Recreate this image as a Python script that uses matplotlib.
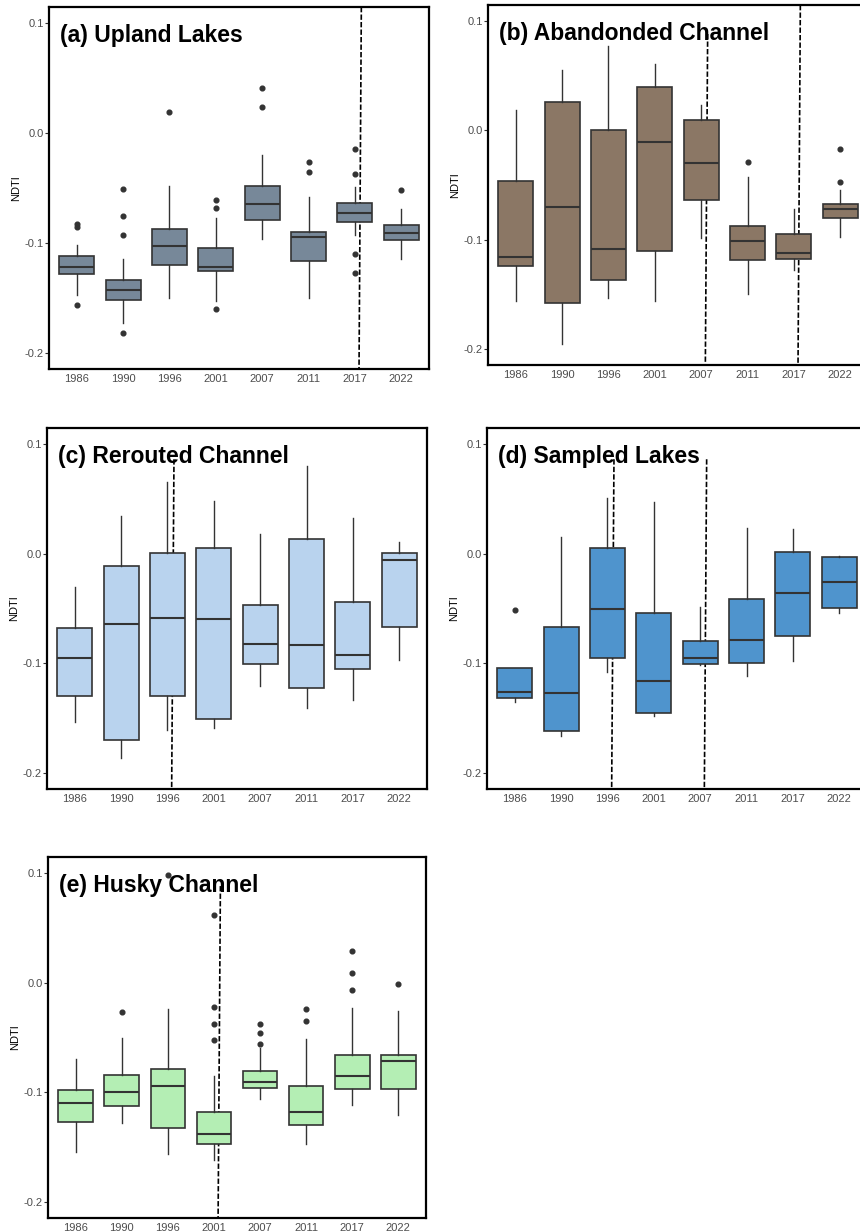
import matplotlib
matplotlib.use('Agg')
import matplotlib.pyplot as plt
import numpy as np

plt.rcParams['font.family'] = ['Liberation Sans', 'DejaVu Sans']
plt.rcParams['axes.unicode_minus'] = False

years = ['1986', '1990', '1996', '2001', '2007', '2011', '2017', '2022']

# (whisker low, q1, median, q3, whisker high) per year
upland_box = [
    (-0.147, -0.1285, -0.1215, -0.1114, -0.1017),
    (-0.1725, -0.1518, -0.1427, -0.1333, -0.1148),
    (-0.1497, -0.120, -0.1023, -0.0875, -0.0486),
    (-0.1527, -0.1251, -0.1215, -0.1042, -0.0774),
    (-0.0966, -0.0793, -0.0647, -0.0486, -0.0197),
    (-0.1503, -0.1166, -0.0941, -0.0896, -0.0586),
    (-0.0926, -0.0811, -0.0729, -0.0638, -0.0492),
    (-0.1145, -0.0972, -0.0905, -0.0835, -0.0689),
]
upland_out = [
    [-0.0826, -0.0856, -0.1564],
    [-0.0507, -0.075, -0.0926, -0.1819],
    [0.0188],
    [-0.0607, -0.0686, -0.1597],
    [0.041, 0.0234],
    [-0.0264, -0.0355],
    [-0.0149, -0.0377, -0.1102, -0.1275],
    [-0.0519],
]

abandoned_box = [
    (-0.1564, -0.124, -0.1155, -0.0466, 0.0183),
    (-0.195, -0.1579, -0.0704, 0.0259, 0.0555),
    (-0.1534, -0.1366, -0.1085, 0.0003, 0.0768),
    (-0.1558, -0.1104, -0.0104, 0.0393, 0.061),
    (-0.0988, -0.0637, -0.0302, 0.0098, 0.0235),
    (-0.1494, -0.1189, -0.1012, -0.0875, -0.043),
    (-0.128, -0.1174, -0.1119, -0.0951, -0.0716),
    (-0.0973, -0.0799, -0.072, -0.0671, -0.0543),
]
abandoned_out = [[], [], [], [], [], [-0.0293], [], [-0.0174, -0.047]]

rerouted_box = [
    (-0.1531, -0.1297, -0.0947, -0.0679, -0.0307),
    (-0.1866, -0.1696, -0.0642, -0.0116, 0.0344),
    (-0.161, -0.1297, -0.0591, 0.0003, 0.0654),
    (-0.1589, -0.1504, -0.0594, 0.0055, 0.0478),
    (-0.1202, -0.1005, -0.0828, -0.0472, 0.0177),
    (-0.1406, -0.1224, -0.0837, 0.0131, 0.0801),
    (-0.1333, -0.105, -0.0922, -0.0441, 0.0329),
    (-0.0965, -0.0667, -0.0058, 0.0009, 0.0107),
]
rerouted_out = [[], [], [], [], [], [], [], []]

sampled_box = [
    (-0.1352, -0.1312, -0.126, -0.1041, -0.1041),
    (-0.1665, -0.1613, -0.1269, -0.0667, 0.0152),
    (-0.1078, -0.0947, -0.0502, 0.0049, 0.0511),
    (-0.1482, -0.1452, -0.1163, -0.0542, 0.0472),
    (-0.1017, -0.1002, -0.0947, -0.0795, -0.0487),
    (-0.1117, -0.0998, -0.0791, -0.0411, 0.0237),
    (-0.0983, -0.0749, -0.0356, 0.0018, 0.0222),
    (-0.0539, -0.0493, -0.0256, -0.003, -0.002),
]
sampled_out = [[-0.0514], [], [], [], [], [], [], []]

husky_box = [
    (-0.154, -0.1272, -0.1099, -0.0974, -0.0697),
    (-0.1279, -0.1126, -0.0995, -0.084, -0.0508),
    (-0.1559, -0.1324, -0.0941, -0.0791, -0.0244),
    (-0.1613, -0.147, -0.1382, -0.1178, -0.0852),
    (-0.1056, -0.0962, -0.0904, -0.0804, -0.0594),
    (-0.1473, -0.1294, -0.1178, -0.0941, -0.0514),
    (-0.1117, -0.0965, -0.0855, -0.0658, -0.0234),
    (-0.1209, -0.0968, -0.0718, -0.0658, -0.0256),
]
husky_out = [
    [],
    [-0.0271],
    [0.0977],
    [0.0612, -0.0225, -0.0374, -0.0527],
    [-0.0374, -0.0463, -0.056],
    [-0.024, -0.035],
    [0.0289, 0.0091, -0.0067],
    [-0.0015],
]

# dashed break lines: (year, top value or None for full height)
upland_breaks = [('2017', None)]
abandoned_breaks = [('2007', 0.088), ('2017', None)]
rerouted_breaks = [('1996', 0.086)]
sampled_breaks = [('1996', 0.086), ('2007', 0.086)]
husky_breaks = [('2001', 0.088)]

titles = ['(a) Upland Lakes', '(b) Abandonded Channel', '(c) Rerouted Channel',
          '(d) Sampled Lakes', '(e) Husky Channel']
colors = ['#778899', '#8B7765', '#B9D3EE', '#4F94CD', '#B4EEB4']

W, H = 860, 1232
# axes boxes in pixels: left, top, width, height
panel_px = [(49, 7, 380, 362), (488, 5, 380, 360), (47, 428, 380, 361),
            (487, 428, 380, 361), (48, 857, 378, 361)]

YLIM = (-0.2145, 0.1145)
EDGE = '#333333'


def draw_panel(fig, px, title, color, boxes, outs, breaks):
    l, t, w, h = px
    ax = fig.add_axes([l / W, 1 - (t + h) / H, w / W, h / H])
    stats = []
    for yr, b, o in zip(years, boxes, outs):
        stats.append(dict(whislo=b[0], q1=b[1], med=b[2], q3=b[3], whishi=b[4],
                          fliers=o, label=yr))
    pos = np.arange(len(years))
    ax.bxp(stats, positions=pos, widths=0.75, patch_artist=True, showcaps=False,
           boxprops=dict(facecolor=color, edgecolor=EDGE, linewidth=1.2),
           medianprops=dict(color=EDGE, linewidth=1.5),
           whiskerprops=dict(color=EDGE, linewidth=1.0),
           flierprops=dict(marker='o', markerfacecolor=EDGE, markeredgecolor=EDGE,
                           markersize=3.4, linestyle='none'),
           zorder=3)
    for yr, ytop in breaks:
        i = years.index(yr)
        top = YLIM[1] if ytop is None else ytop
        ax.plot([i + 0.14, i + 0.09], [top, YLIM[0]], color='black', lw=1.2,
                linestyle=(0, (3.2, 1.3)), zorder=1, clip_on=False)
    ax.set_xlim(-0.6, len(years) - 0.4)
    ax.set_ylim(*YLIM)
    ax.set_yticks([-0.2, -0.1, 0.0, 0.1])
    ax.set_yticklabels(['-0.2', '-0.1', '0.0', '0.1'])
    ax.set_xticks(pos)
    ax.set_xticklabels(years)
    ax.tick_params(axis='y', length=2.8, width=0.8, color='#333333', pad=0.8,
                   labelsize=8, labelcolor='#4D4D4D')
    ax.tick_params(axis='x', length=0, pad=3.5, labelsize=8, labelcolor='#4D4D4D')
    for s in ax.spines.values():
        s.set_linewidth(1.6)
        s.set_color('black')
    ax.set_ylabel('NDTI', fontsize=8, color='black')
    ax.yaxis.set_label_coords(-0.074, 0.5)
    ax.text(11 / w, 1 - 35 / h, title, transform=ax.transAxes, fontsize=16.5,
            fontweight='bold', ha='left', va='baseline', zorder=6)
    return ax


fig = plt.figure(figsize=(8.6, 12.32), dpi=100)
all_boxes = [upland_box, abandoned_box, rerouted_box, sampled_box, husky_box]
all_outs = [upland_out, abandoned_out, rerouted_out, sampled_out, husky_out]
all_breaks = [upland_breaks, abandoned_breaks, rerouted_breaks, sampled_breaks, husky_breaks]
for i in range(5):
    draw_panel(fig, panel_px[i], titles[i], colors[i], all_boxes[i], all_outs[i], all_breaks[i])

fig.savefig('out.png', dpi=100)
